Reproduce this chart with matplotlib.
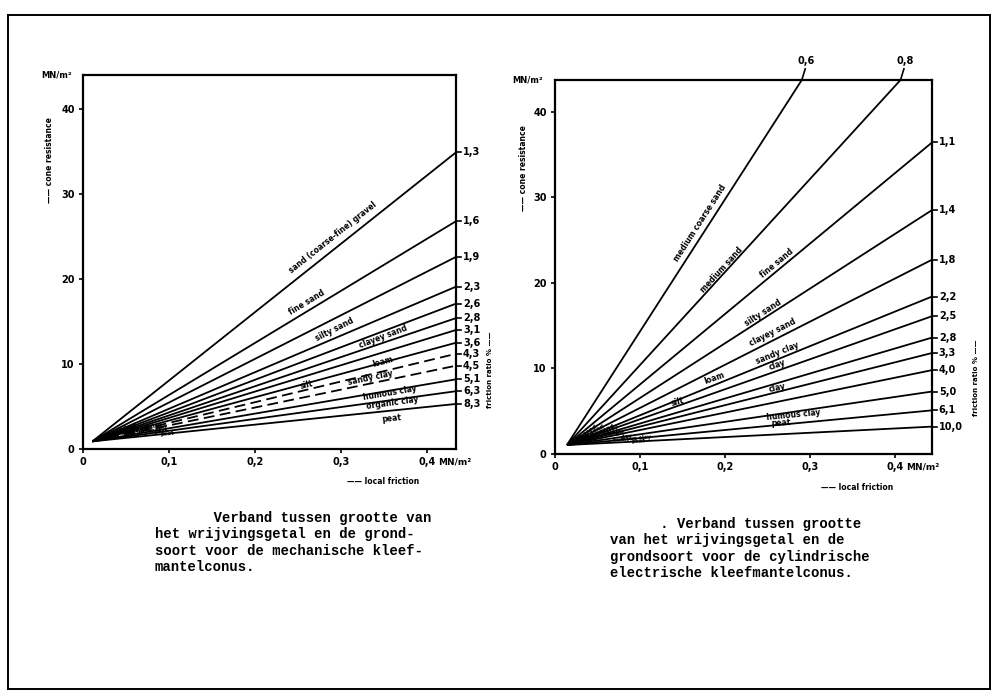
import numpy as np
import matplotlib.pyplot as plt
from matplotlib.lines import Line2D

# ---- mechanische kleefmantelconus (links) ----
mech_ratio = ['1,3', '1,6', '1,9', '2,3', '2,6', '2,8', '3,1', '3,6', '4,3', '4,5', '5,1', '6,3', '8,3']
mech_end_fs = [0.434] * 13
mech_end_qc = [34.9, 26.8, 22.6, 19.1, 17.1, 15.4, 14.0, 12.5, 11.2, 9.8, 8.2, 6.8, 5.3]
mech_dashed = ['4,3', '4,5']
mech_start = (0.011, 0.9)

mech_soil = ['sand (coarse-fine) gravel', 'fine sand', 'silty sand', 'clayey sand', 'loam',
             'silt', 'sandy clay', 'humous clay', 'organic clay', 'peat']
mech_soil_fs = [0.291, 0.260, 0.293, 0.349, 0.349, 0.260, 0.334, 0.357, 0.360, 0.359]
mech_soil_qc = [24.9, 17.2, 14.0, 13.2, 10.2, 7.5, 8.4, 6.6, 5.4, 3.6]
mech_soil_line = ['1,3', '1,6', '1,9', '2,6', '3,6', '4,3', '4,5', '5,1', '6,3', '8,3']

# ---- cylindrische electrische kleefmantelconus (rechts) ----
elec_ratio = ['0,6', '0,8', '1,1', '1,4', '1,8', '2,2', '2,5', '2,8', '3,3', '4,0', '5,0', '6,1', '10,0']
elec_end_fs = [0.290, 0.406, 0.443, 0.443, 0.443, 0.443, 0.443, 0.443, 0.443, 0.443, 0.443, 0.443, 0.443]
elec_end_qc = [43.7, 43.7, 36.4, 28.5, 22.7, 18.4, 16.1, 13.6, 11.8, 9.8, 7.3, 5.1, 3.2]
elec_start = (0.014, 1.05)

elec_soil = ['medium coarse sand', 'medium sand', 'fine sand', 'silty sand', 'clayey sand',
             'sandy clay', 'clay', 'loam', 'silt', 'clay', 'humous clay', 'peat']
elec_soil_fs = [0.171, 0.196, 0.261, 0.244, 0.256, 0.261, 0.261, 0.188, 0.144, 0.261, 0.280, 0.265]
elec_soil_qc = [27.0, 21.5, 22.3, 16.5, 14.2, 11.8, 10.4, 8.9, 6.1, 7.7, 4.6, 3.6]
elec_soil_line = ['0,6', '0,8', '1,1', '1,4', '1,8', '2,2', '2,5', '2,5', '3,3', '4,0', '6,1', '10,0']

xticks = [0, 0.1, 0.2, 0.3, 0.4]
xtick_labels = ['0', '0,1', '0,2', '0,3', '0,4']
yticks = [0, 10, 20, 30, 40]

caption_left = ("       Verband tussen grootte van\n"
                "het wrijvingsgetal en de grond-\n"
                "soort voor de mechanische kleef-\n"
                "mantelconus.")
caption_right = ("      . Verband tussen grootte\n"
                 "van het wrijvingsgetal en de\n"
                 "grondsoort voor de cylindrische\n"
                 "electrische kleefmantelconus.")

W, H = 992, 693
fig = plt.figure(figsize=(W / 100, H / 100), dpi=100)
fig.patch.set_facecolor('white')

lab = dict(family='DejaVu Sans', weight='bold', color='black')


def angle_of(ax, p0, p1):
    a = ax.transData.transform(p0)
    b = ax.transData.transform(p1)
    return np.degrees(np.arctan2(b[1] - a[1], b[0] - a[0]))


def draw_chart(ax, ratios, end_fs, end_qc, start, dashed, soils, s_fs, s_qc, s_line, xmax, ymax):
    ax.set_xlim(0, xmax)
    ax.set_ylim(0, ymax)
    for sp in ax.spines.values():
        sp.set_linewidth(1.6)
    ax.set_xticks(xticks)
    ax.set_xticklabels(xtick_labels, fontsize=7, fontweight='bold')
    ax.set_yticks(yticks)
    ax.set_yticklabels([str(v) for v in yticks], fontsize=7, fontweight='bold')
    ax.tick_params(direction='out', length=3, width=1.2, pad=3)

    ends = {}
    for r, xe, ye in zip(ratios, end_fs, end_qc):
        ls = (0, (6, 3)) if r in dashed else '-'
        ax.plot([start[0], xe], [start[1], ye], color='black', lw=1.3, ls=ls,
                solid_capstyle='butt')
        ends[r] = (xe, ye)
        if ye >= ymax - 0.01:
            # label above the top border
            ax.plot([xe, xe + 0.004], [ye, ye + 1.3], color='black', lw=1.2, clip_on=False)
            ax.text(xe + 0.005, ye + 1.6, r, fontsize=7, ha='center', va='bottom', **lab)
        else:
            ax.plot([xe, xe + 0.006], [ye, ye], color='black', lw=1.2, clip_on=False)
            ax.text(xe + 0.008, ye, r, fontsize=7, ha='left', va='center', **lab)

    for t, x, y, ln in zip(soils, s_fs, s_qc, s_line):
        rot = angle_of(ax, start, ends[ln])
        ax.text(x, y, t, fontsize=5.5, rotation=rot, rotation_mode='anchor',
                ha='center', va='center', **lab)

    # small crowded labels near the origin
    x0, y0 = start
    for k, ln in enumerate(ratios[3:]):
        t = soils[min(k + 2, len(soils) - 1)]
        fx = 0.035 + 0.007 * k
        x1, y1 = ends[ln]
        fy = y0 + (y1 - y0) * (fx - x0) / (x1 - x0)
        rot = angle_of(ax, start, ends[ln])
        ax.text(fx, fy, t, fontsize=4, rotation=rot, rotation_mode='anchor',
                ha='center', va='center', **lab)


# left chart
axl = fig.add_axes([83 / W, 1 - 449 / H, (456 - 83) / W, (449 - 75) / H])
draw_chart(axl, mech_ratio, mech_end_fs, mech_end_qc, mech_start, mech_dashed,
           mech_soil, mech_soil_fs, mech_soil_qc, mech_soil_line, 0.434, 44.0)

# right chart
axr = fig.add_axes([555 / W, 1 - 454 / H, (932 - 555) / W, (454 - 80) / H])
draw_chart(axr, elec_ratio, elec_end_fs, elec_end_qc, elec_start, [],
           elec_soil, elec_soil_fs, elec_soil_qc, elec_soil_line, 0.443, 43.7)

# axis annotations
fig.text(57 / W, 1 - 75 / H, 'MN/m²', fontsize=6, ha='center', va='center', **lab)
fig.text(528 / W, 1 - 80 / H, 'MN/m²', fontsize=6, ha='center', va='center', **lab)
fig.text(50 / W, 1 - 160 / H, '—— cone resistance', fontsize=5.5, rotation=90,
         ha='center', va='center', **lab)
fig.text(523 / W, 1 - 168 / H, '—— cone resistance', fontsize=5.5, rotation=90,
         ha='center', va='center', **lab)
fig.text(383 / W, 1 - 481 / H, '—— local friction', fontsize=5.5, ha='center', va='center', **lab)
fig.text(857 / W, 1 - 487 / H, '—— local friction', fontsize=5.5, ha='center', va='center', **lab)
fig.text(438 / W, 1 - 462 / H, 'MN/m²', fontsize=6.5, ha='left', va='center', **lab)
fig.text(906 / W, 1 - 467 / H, 'MN/m²', fontsize=6.5, ha='left', va='center', **lab)
fig.text(490 / W, 1 - 370 / H, 'friction ratio % ——', fontsize=5, rotation=90,
         ha='center', va='center', **lab)
fig.text(976 / W, 1 - 378 / H, 'friction ratio % ——', fontsize=5, rotation=90,
         ha='center', va='center', **lab)

# captions
fig.text(155 / W, 1 - 511 / H, caption_left, family='Liberation Mono', weight='bold',
         fontsize=10, ha='left', va='top', linespacing=1.22)
fig.text(610 / W, 1 - 517 / H, caption_right, family='Liberation Mono', weight='bold',
         fontsize=10, ha='left', va='top', linespacing=1.22)

# page frame
for xs, ys in [([8, 990], [15, 15]), ([8, 8], [15, 689]), ([8, 990], [689, 689]),
               ([990, 990], [15, 689])]:
    fig.add_artist(Line2D([x / W for x in xs], [1 - y / H for y in ys],
                          color='black', lw=1.4))

fig.savefig('out.png', dpi=100)
